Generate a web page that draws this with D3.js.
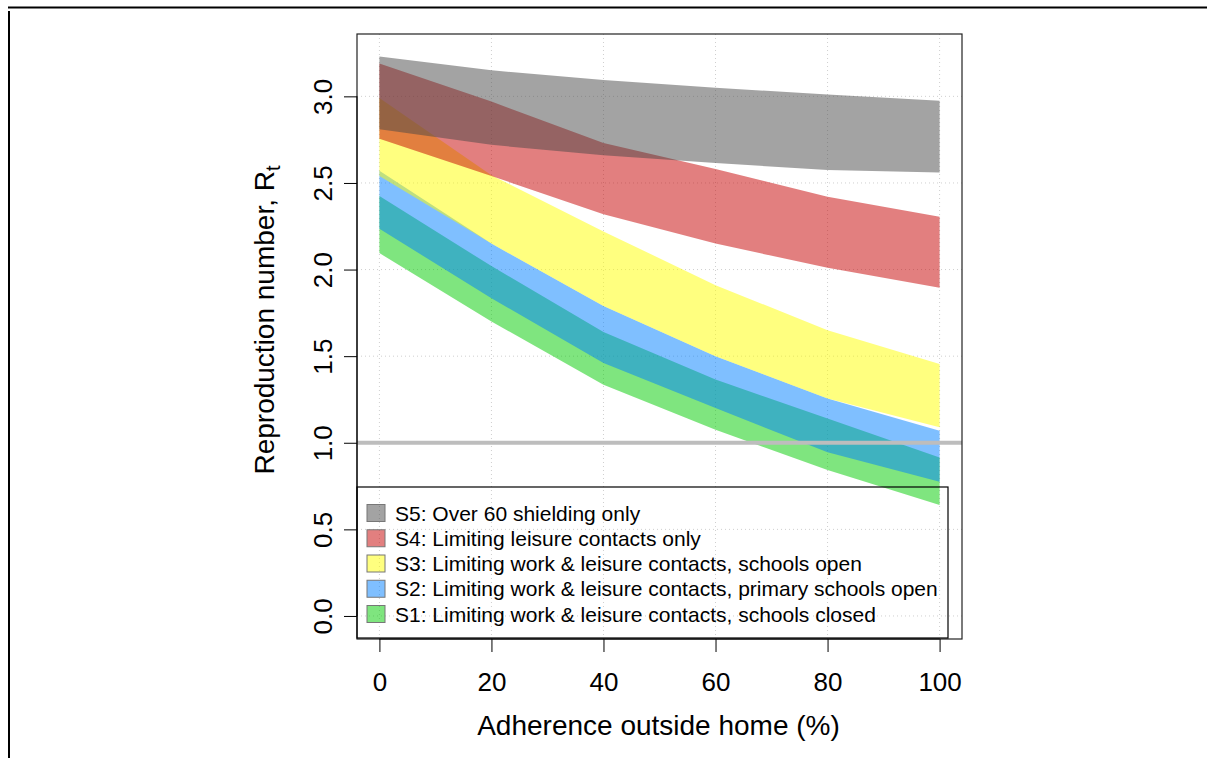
<!DOCTYPE html>
<html>
<head>
<meta charset="utf-8">
<script src="https://cdn.jsdelivr.net/npm/d3@7"></script>
<style>
  html, body { margin: 0; padding: 0; background: #fff; }
  svg { display: block; font-family: "Liberation Sans", Arial, Helvetica, sans-serif; }
</style>
</head>
<body>
<svg id="plot" width="1207" height="758"></svg>
<script>
// adherence outside home (%)
const adherence = [0, 20, 40, 60, 80, 100];

// Rt bands, lower and upper, per scenario
const s5Low = [2.81, 2.72, 2.66, 2.615, 2.575, 2.56];
const s5High = [3.23, 3.15, 3.095, 3.05, 3.01, 2.975];
const s4Low = [2.755, 2.54, 2.32, 2.15, 2.01, 1.895];
const s4High = [3.19, 2.97, 2.73, 2.58, 2.42, 2.305];
const s3Low = [2.54, 2.15, 1.79, 1.50, 1.255, 1.09];
const s3High = [2.99, 2.545, 2.22, 1.91, 1.65, 1.455];
const s2Low = [2.235, 1.835, 1.46, 1.20, 0.945, 0.775];
const s2High = [2.57, 2.15, 1.79, 1.50, 1.255, 1.07];
const s1Low = [2.095, 1.70, 1.335, 1.075, 0.843, 0.64];
const s1High = [2.425, 2.02, 1.64, 1.365, 1.14, 0.915];

const scenarioNames = [
  "S5: Over 60 shielding only",
  "S4: Limiting leisure contacts only",
  "S3: Limiting work & leisure contacts, schools open",
  "S2: Limiting work & leisure contacts, primary schools open",
  "S1: Limiting work & leisure contacts, schools closed"
];

const xTicks = [0, 20, 40, 60, 80, 100];
const yTicks = [0, 0.5, 1, 1.5, 2, 2.5, 3];
const threshold = 1;

d3.select(window).on('load', init);

function init() {
  const svg = d3.select('#plot');

  const left = 357, right = 962, top = 34, bottom = 639;

  const x = d3.scaleLinear().domain([-4, 104]).range([left, right]);
  const y = d3.scaleLinear().domain([-0.133, 3.36]).range([bottom, top]);

  const fills = {
    S5: 'rgba(71,71,71,0.5)',
    S4: 'rgba(198,0,0,0.5)',
    S3: 'rgba(255,255,0,0.5)',
    S2: 'rgba(0,128,255,0.5)',
    S1: 'rgba(0,204,0,0.5)'
  };

  // outer frame bits
  svg.append('line').attr('x1', 8).attr('x2', 1207).attr('y1', 7.5).attr('y2', 7.5)
    .attr('stroke', '#000').attr('stroke-width', 2);
  svg.append('line').attr('x1', 9).attr('x2', 9).attr('y1', 11).attr('y2', 758)
    .attr('stroke', '#000').attr('stroke-width', 2);

  // grid
  const grid = svg.append('g');
  grid.selectAll('.gx').data(xTicks).enter().append('line')
    .attr('x1', d => x(d)).attr('x2', d => x(d)).attr('y1', top).attr('y2', bottom)
    .attr('stroke', '#cfcfcf').attr('stroke-dasharray', '1,3');
  grid.selectAll('.gy').data(yTicks).enter().append('line')
    .attr('x1', left).attr('x2', right).attr('y1', d => y(d)).attr('y2', d => y(d))
    .attr('stroke', '#cfcfcf').attr('stroke-dasharray', '1,3');

  // bands, S1 first so S5 ends on top
  const bands = [
    ['S1', s1Low, s1High],
    ['S2', s2Low, s2High],
    ['S3', s3Low, s3High],
    ['S4', s4Low, s4High],
    ['S5', s5Low, s5High]
  ];
  const area = d3.area()
    .x(d => x(d[0]))
    .y0(d => y(d[1]))
    .y1(d => y(d[2]));

  bands.forEach(([key, lo, hi]) => {
    const rows = adherence.map((a, i) => [a, lo[i], hi[i]]);
    svg.append('path')
      .attr('d', area(rows))
      .attr('fill', fills[key]);
  });

  // Rt = 1 line
  svg.append('line')
    .attr('x1', left).attr('x2', right)
    .attr('y1', y(threshold)).attr('y2', y(threshold))
    .attr('stroke', '#bdbdbd').attr('stroke-width', 4);

  // box
  svg.append('rect')
    .attr('x', left).attr('y', top)
    .attr('width', right - left).attr('height', bottom - top)
    .attr('fill', 'none').attr('stroke', '#222').attr('stroke-width', 1.2);

  // axes
  const xAxis = svg.append('g')
    .attr('transform', 'translate(0,' + bottom + ')')
    .call(d3.axisBottom(x).tickValues(xTicks).tickSize(13).tickPadding(21).tickFormat(d3.format('d')));
  xAxis.select('.domain').attr('d', 'M' + x(0) + ',0H' + x(100));
  xAxis.selectAll('text').attr('font-size', 26).attr('fill', '#000')
    .attr('font-family', '"Liberation Sans", Arial, sans-serif');

  const yAxis = svg.append('g')
    .attr('transform', 'translate(' + left + ',0)')
    .call(d3.axisLeft(y).tickValues(yTicks).tickSize(13).tickFormat(d3.format('.1f')));
  yAxis.select('.domain').attr('d', 'M0,' + y(0) + 'V' + y(3));
  yAxis.selectAll('text')
    .attr('font-size', 26).attr('fill', '#000')
    .attr('font-family', '"Liberation Sans", Arial, sans-serif')
    .attr('x', null).attr('dy', null)
    .attr('text-anchor', 'middle')
    .attr('transform', 'translate(-25,0) rotate(-90)');

  // titles
  svg.append('text')
    .attr('x', (left + right) / 2 - 1).attr('y', 735)
    .attr('text-anchor', 'middle').attr('font-size', 28)
    .text('Adherence outside home (%)');

  const yt = svg.append('text')
    .attr('transform', 'translate(274,' + 320 + ') rotate(-90)')
    .attr('text-anchor', 'middle').attr('font-size', 28);
  yt.append('tspan').text('Reproduction number, R');
  yt.append('tspan').attr('font-size', 20).attr('dy', 6).text('t');

  // legend
  const legend = svg.append('g');
  legend.append('rect')
    .attr('x', left).attr('y', 487).attr('width', 948 - left).attr('height', 638 - 487)
    .attr('fill', 'none').attr('stroke', '#000').attr('stroke-width', 1.2);
  const keys = ['S5', 'S4', 'S3', 'S2', 'S1'];
  const rowY = d3.scaleLinear().domain([0, 4]).range([513, 614]);
  const items = legend.selectAll('.item').data(scenarioNames).enter().append('g');
  items.append('rect')
    .attr('x', 367).attr('y', (d, i) => rowY(i) - 8.5)
    .attr('width', 18).attr('height', 17)
    .attr('fill', (d, i) => fills[keys[i]])
    .attr('stroke', '#777').attr('stroke-width', 1);
  items.append('text')
    .attr('x', 395).attr('y', (d, i) => rowY(i) + 7.5)
    .attr('font-size', 21)
    .text(d => d);
}
</script>
</body>
</html>
